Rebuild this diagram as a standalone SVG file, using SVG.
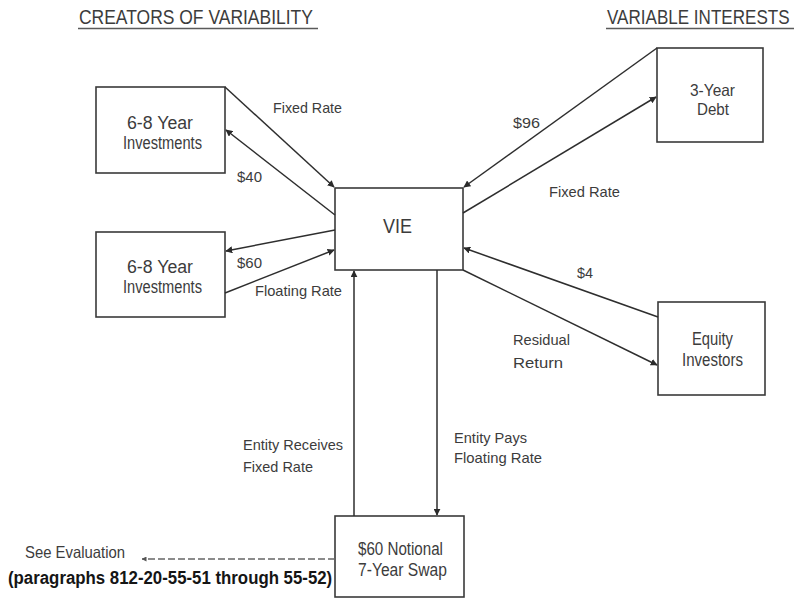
<svg xmlns="http://www.w3.org/2000/svg" width="801" height="601" viewBox="0 0 801 601">
  <defs>
    <marker id="arrow" viewBox="0 0 10 10" refX="9" refY="5" markerWidth="7" markerHeight="7" markerUnits="userSpaceOnUse" orient="auto">
      <path d="M0,0 L10,5 L0,10 z" fill="#2b2b2b"/>
    </marker>
    <marker id="arrowSmall" viewBox="0 0 10 10" refX="9" refY="5" markerWidth="5" markerHeight="5" markerUnits="userSpaceOnUse" orient="auto">
      <path d="M0,0 L10,5 L0,10 z" fill="#555"/>
    </marker>
  </defs>
  <style>
    .box { fill: #fff; stroke: #3a3a3a; stroke-width: 1.6; }
    .link { fill: none; stroke: #2e2e2e; stroke-width: 1.5; marker-end: url(#arrow); }
    .t { font-family: "Liberation Sans", Arial, sans-serif; fill: #3c3c3c; }
    .lbl { font-size: 15px; }
    .nd { font-size: 17.5px; }
    .head { font-size: 20px; }
    .ul { stroke: #5a5a5a; stroke-width: 1.6; }
  </style>
  <rect width="801" height="601" fill="#fff"/>

  <!-- column headings (horizontally condensed) -->
  <g id="headings">
    <text class="t head" transform="translate(79,24) scale(0.874,1)" x="0" y="0">CREATORS OF VARIABILITY</text>
    <line class="ul" x1="78" y1="28.5" x2="318" y2="28.5"/>
    <text class="t head" transform="translate(607,24) scale(0.853,1)" x="0" y="0">VARIABLE INTERESTS</text>
    <line class="ul" x1="606" y1="28.5" x2="794" y2="28.5"/>
  </g>

  <!-- nodes -->
  <g id="inv-fixed">
    <rect class="box" x="96" y="87" width="129" height="86"/>
    <text class="t nd" x="127" y="129" textLength="66" lengthAdjust="spacingAndGlyphs">6-8 Year</text>
    <text class="t nd" x="123" y="149" textLength="79" lengthAdjust="spacingAndGlyphs">Investments</text>
  </g>
  <g id="inv-floating">
    <rect class="box" x="96" y="232" width="129" height="85"/>
    <text class="t nd" x="127" y="273" textLength="66" lengthAdjust="spacingAndGlyphs">6-8 Year</text>
    <text class="t nd" x="123" y="293" textLength="79" lengthAdjust="spacingAndGlyphs">Investments</text>
  </g>
  <g id="vie">
    <rect class="box" x="335" y="188" width="128" height="82"/>
    <text class="t" font-size="21" x="383" y="233" textLength="29" lengthAdjust="spacingAndGlyphs">VIE</text>
  </g>
  <g id="debt">
    <rect class="box" x="657" y="48" width="106" height="94"/>
    <text class="t" font-size="16.5" x="690" y="96" textLength="45" lengthAdjust="spacingAndGlyphs">3-Year</text>
    <text class="t" font-size="16.5" x="697" y="115" textLength="32" lengthAdjust="spacingAndGlyphs">Debt</text>
  </g>
  <g id="equity">
    <rect class="box" x="658" y="302" width="107" height="93"/>
    <text class="t nd" x="692" y="345" textLength="41" lengthAdjust="spacingAndGlyphs">Equity</text>
    <text class="t nd" x="682" y="366" textLength="61" lengthAdjust="spacingAndGlyphs">Investors</text>
  </g>
  <g id="swap">
    <rect class="box" x="335" y="516" width="129" height="81"/>
    <text class="t nd" x="358" y="555" textLength="85" lengthAdjust="spacingAndGlyphs">$60 Notional</text>
    <text class="t nd" x="358" y="576" textLength="89" lengthAdjust="spacingAndGlyphs">7-Year Swap</text>
  </g>

  <!-- connectors -->
  <g id="connectors">
    <line class="link" x1="225" y1="87" x2="334" y2="187"/>
    <line class="link" x1="335" y1="215" x2="226" y2="130"/>
    <line class="link" x1="335" y1="230" x2="226" y2="251"/>
    <line class="link" x1="225" y1="293" x2="334" y2="250"/>
    <line class="link" x1="657" y1="48" x2="464" y2="187"/>
    <line class="link" x1="463" y1="213" x2="656" y2="97"/>
    <line class="link" x1="658" y1="317" x2="464" y2="248"/>
    <line class="link" x1="463" y1="270" x2="657" y2="365"/>
    <line class="link" x1="354" y1="516" x2="354" y2="271"/>
    <line class="link" x1="437" y1="270" x2="437" y2="515"/>
    <line x1="335" y1="559" x2="142" y2="559" stroke="#666" stroke-width="1.3" stroke-dasharray="7,3" marker-end="url(#arrowSmall)"/>
  </g>

  <!-- connector labels -->
  <g id="labels">
    <text class="t lbl" x="273" y="113" textLength="69" lengthAdjust="spacingAndGlyphs">Fixed Rate</text>
    <text class="t lbl" x="237" y="182" textLength="25" lengthAdjust="spacingAndGlyphs">$40</text>
    <text class="t lbl" x="237" y="268" textLength="25" lengthAdjust="spacingAndGlyphs">$60</text>
    <text class="t lbl" x="255" y="296" textLength="87" lengthAdjust="spacingAndGlyphs">Floating Rate</text>
    <text class="t lbl" x="513" y="128" textLength="27" lengthAdjust="spacingAndGlyphs">$96</text>
    <text class="t lbl" x="549" y="197" textLength="71" lengthAdjust="spacingAndGlyphs">Fixed Rate</text>
    <text class="t lbl" x="577" y="278" textLength="16" lengthAdjust="spacingAndGlyphs">$4</text>
    <text class="t lbl" x="513" y="345" textLength="57" lengthAdjust="spacingAndGlyphs">Residual</text>
    <text class="t lbl" x="513" y="368" textLength="50" lengthAdjust="spacingAndGlyphs">Return</text>
    <text class="t lbl" x="243" y="450" textLength="100" lengthAdjust="spacingAndGlyphs">Entity Receives</text>
    <text class="t lbl" x="243" y="472" textLength="70" lengthAdjust="spacingAndGlyphs">Fixed Rate</text>
    <text class="t lbl" x="454" y="443" textLength="73" lengthAdjust="spacingAndGlyphs">Entity Pays</text>
    <text class="t lbl" x="454" y="463" textLength="88" lengthAdjust="spacingAndGlyphs">Floating Rate</text>
  </g>

  <!-- reference note -->
  <g id="note">
    <text class="t" font-size="16.5" x="25" y="558" textLength="100" lengthAdjust="spacingAndGlyphs">See Evaluation</text>
    <text class="t" font-size="19" font-weight="bold" style="fill:#151515" transform="translate(8,584) scale(0.885,1)" x="0" y="0">(paragraphs 812-20-55-51 through 55-52)</text>
  </g>
</svg>
